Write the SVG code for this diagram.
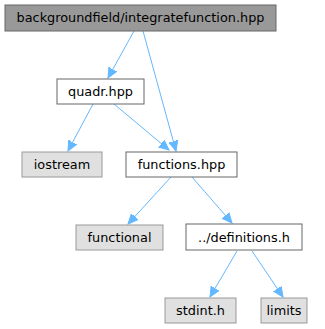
<svg xmlns="http://www.w3.org/2000/svg" width="325" height="329" viewBox="0 0 325 329">
<defs>
<style>
.n rect{stroke-width:1}
.w rect{fill:#ffffff;stroke:#666666}
.g rect{fill:#e0e0e0;stroke:#999999}
.m rect{fill:#999999;stroke:#666666}
text{font-family:"DejaVu Sans",sans-serif;font-size:12.85px;fill:#000;text-anchor:middle}
.e line{stroke:#63b8ff;stroke-width:1;fill:none}
</style>
<marker id="a" markerUnits="userSpaceOnUse" markerWidth="12" markerHeight="12" viewBox="0 -6 12 12" refX="10" refY="0" orient="auto">
<path d="M0,-4.5 L10,0 L0,4.5 Z" fill="#63b8ff" stroke="#63b8ff" stroke-width="1"/>
</marker>
</defs>
<rect width="325" height="329" fill="#ffffff"/>
<g class="e">
<line x1="134" y1="31" x2="108" y2="78" marker-end="url(#a)"/>
<line x1="143" y1="31" x2="176" y2="151" marker-end="url(#a)"/>
<line x1="93" y1="104" x2="68" y2="151" marker-end="url(#a)"/>
<line x1="114" y1="104" x2="169" y2="150" marker-end="url(#a)"/>
<line x1="171" y1="177" x2="128" y2="224" marker-end="url(#a)"/>
<line x1="192" y1="177" x2="232" y2="223" marker-end="url(#a)"/>
<line x1="237" y1="251" x2="210" y2="297" marker-end="url(#a)"/>
<line x1="252" y1="251" x2="283" y2="297" marker-end="url(#a)"/>
</g>
<g id="node1" class="n m"><rect x="5" y="5" width="271" height="26"/><text x="140.5" y="22">backgroundfield/integratefunction.hpp</text></g>
<g id="node2" class="n w"><rect x="57" y="79" width="87" height="25"/><text x="100.5" y="96">quadr.hpp</text></g>
<g id="node3" class="n g"><rect x="22" y="152" width="80" height="25"/><text x="62" y="169">iostream</text></g>
<g id="node4" class="n w"><rect x="126" y="152" width="111" height="25"/><text x="181.5" y="169">functions.hpp</text></g>
<g id="node5" class="n g"><rect x="76" y="225" width="87" height="25"/><text x="119.5" y="242">functional</text></g>
<g id="node6" class="n w"><rect x="186" y="224" width="116" height="26"/><text x="244" y="242">../definitions.h</text></g>
<g id="node7" class="n g"><rect x="165" y="298" width="71" height="25"/><text x="200.5" y="315">stdint.h</text></g>
<g id="node8" class="n g"><rect x="261" y="298" width="46" height="25"/><text x="284" y="315">limits</text></g>
</svg>
